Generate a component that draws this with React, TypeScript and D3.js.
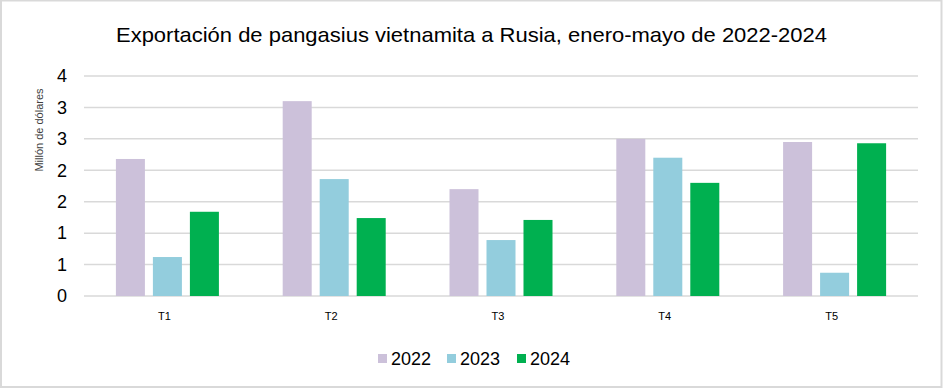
import * as d3 from 'd3';
import React from 'react';

const categories = ['T1', 'T2', 'T3', 'T4', 'T5'];
const seriesNames = ['2022', '2023', '2024'];
const values2022 = [2.18, 3.1, 1.7, 2.5, 2.45];
const values2023 = [0.62, 1.86, 0.89, 2.2, 0.37];
const values2024 = [1.34, 1.24, 1.21, 1.8, 2.43];
const tickValues = [0, 0.5, 1, 1.5, 2, 2.5, 3, 3.5];
const colors = ['#CCC1DA', '#93CDDD', '#00B050'];

const seriesValues = [values2022, values2023, values2024];

export default function App() {
	const width = 943;
	const height = 389;
	const margin = { top: 76, right: 25, bottom: 93, left: 84 };

	const x0 = d3
		.scaleBand()
		.domain(categories)
		.range([margin.left, width - margin.right])
		.paddingInner(0)
		.paddingOuter(0);

	const x1 = d3
		.scaleBand()
		.domain(seriesNames)
		.range([0, x0.bandwidth()])
		.paddingInner(0.216)
		.paddingOuter(0.862);

	const y = d3
		.scaleLinear()
		.domain([0, 3.5])
		.range([height - margin.bottom, margin.top]);

	// Excel rounds the half steps, so the labels read 0 1 1 2 2 3 3 4
	const fmt = (v: number) => String(Math.round(v + 1e-9));

	const legendX = [378, 447, 517];

	return (
		<svg
			width={width}
			height={height}
			style={{ position: 'absolute', left: 0, top: 0, fontFamily: 'Arial, "Liberation Sans", sans-serif' }}
		>
			<rect x={1} y={0.5} width={940.5} height={386.5} fill="#fff" stroke="#d9d9d9" strokeWidth={2} />
			<text
				x={471.5}
				y={42}
				textAnchor="middle"
				fontSize={21}
				textLength={711}
				lengthAdjust="spacingAndGlyphs"
				fill="#000"
			>
				Exportación de pangasius vietnamita a Rusia, enero-mayo de 2022-2024
			</text>

			<g>
				{tickValues.map(t => (
					<g key={t}>
						<line
							x1={margin.left}
							x2={width - margin.right}
							y1={y(t)}
							y2={y(t)}
							stroke="#d9d9d9"
							strokeWidth={1.5}
						/>
						<text x={67} y={y(t)} dy="0.35em" textAnchor="end" fontSize={18} fill="#000">
							{fmt(t)}
						</text>
					</g>
				))}
			</g>

			<text
				transform={`translate(43,130) rotate(-90)`}
				textAnchor="middle"
				fontSize={11}
				fill="#404040"
			>
				Millón de dólares
			</text>

			<g>
				{categories.map((c, i) => (
					<g key={c} transform={`translate(${x0(c)},0)`}>
						{seriesNames.map((s, j) => (
							<rect
								key={s}
								x={x1(s)}
								y={y(seriesValues[j][i])}
								width={x1.bandwidth()}
								height={y(0) - y(seriesValues[j][i])}
								fill={colors[j]}
							/>
						))}
						<text
							x={x0.bandwidth() / 2 - 3}
							y={320}
							textAnchor="middle"
							fontSize={11}
							fill="#000"
						>
							{c}
						</text>
					</g>
				))}
			</g>

			<g>
				{seriesNames.map((s, j) => (
					<g key={s} transform={`translate(${legendX[j]},0)`}>
						<rect x={0} y={354} width={9} height={9} fill={colors[j]} />
						<text x={13} y={365} fontSize={18} fill="#000">
							{s}
						</text>
					</g>
				))}
			</g>
		</svg>
	);
}
